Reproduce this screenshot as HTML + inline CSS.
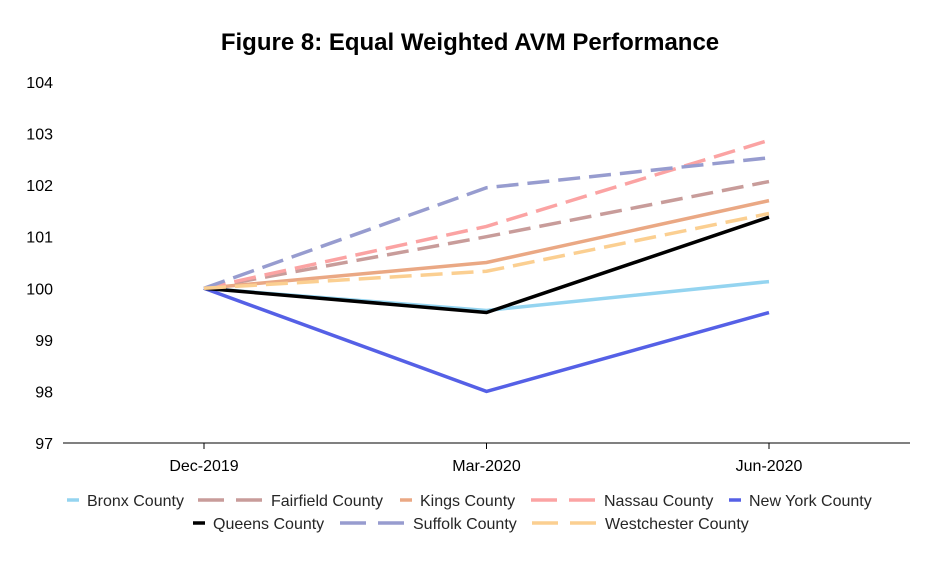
<!DOCTYPE html>
<html><head><meta charset="utf-8"><style>
body{margin:0;background:#fff;font-family:"Liberation Sans",Arial,sans-serif}
svg text{font-family:"Liberation Sans",Arial,sans-serif}
</style></head><body>
<svg id="chart" width="940" height="562">
<text x="470" y="50" text-anchor="middle" font-size="24" font-weight="bold">Figure 8: Equal Weighted AVM Performance</text>
<g id="yaxis"></g>
<g id="xaxis"></g>
<g id="series"></g>
<g id="legend"></g>
</svg>
<script>
const categories=["Dec-2019","Mar-2020","Jun-2020"];
const yTicks=[97,98,99,100,101,102,103,104];
const seriesNames=["Bronx County","Fairfield County","Kings County","Nassau County","New York County","Queens County","Suffolk County","Westchester County"];
const bronx=[100,99.57,100.13];
const fairfield=[100,101.0,102.07];
const kings=[100,100.5,101.7];
const nassau=[100,101.2,102.87];
const newYork=[100,98.0,99.53];
const queens=[100,99.53,101.38];
const suffolk=[100,101.95,102.53];
const westchester=[100,100.33,101.45];
const seriesValues=[bronx,fairfield,kings,nassau,newYork,queens,suffolk,westchester];
const colors=["#94d4f0","#c89c9a","#eaa884","#fba3a3","#5560e6","#000000","#979ccf","#fbcf91"];
const dashed=[false,true,false,true,false,false,true,true];
const NS="http://www.w3.org/2000/svg";
function yS(v){return 443-(v-97)*(443-82)/7;}
function xS(i){return 204+i*282.5;}
function mk(tag,attrs,parent){const e=document.createElementNS(NS,tag);for(const k in attrs)e.setAttribute(k,attrs[k]);parent.appendChild(e);return e;}
const ya=document.getElementById('yaxis'),xa=document.getElementById('xaxis'),sg=document.getElementById('series'),lg=document.getElementById('legend');
yTicks.forEach(t=>{const e=mk('text',{x:53,y:yS(t)+6,'text-anchor':'end','font-size':16},ya);e.textContent=t;

});
const ax=mk('line',{x1:63,x2:910,y1:443,y2:443,stroke:'#000','stroke-width':1},xa);


categories.forEach((c,i)=>{const tk=mk('line',{x1:xS(i),x2:xS(i),y1:443,y2:449,stroke:'#000'},xa);


const e=mk('text',{x:xS(i),y:471,'text-anchor':'middle','font-size':16},xa);e.textContent=c;

});
seriesValues.forEach((vals,s)=>{const pts=vals.map((v,i)=>xS(i)+','+yS(v)).join(' ');
const p=mk('polyline',{points:pts,fill:'none',stroke:colors[s],'stroke-width':3.5},sg);
if(dashed[s])p.setAttribute('stroke-dasharray','22,9');

});
const lineX=[67,198,400,531,729,193,340,532];
const rowY=[500,500,500,500,500,523,523,523];
seriesNames.forEach((n,s)=>{const y=rowY[s];const g=mk('g',{},lg);


const lx=lineX[s];let tx;
if(dashed[s]){mk('line',{x1:lx,x2:lx+26,y1:y,y2:y,stroke:colors[s],'stroke-width':3.5},g);
mk('line',{x1:lx+38,x2:lx+64,y1:y,y2:y,stroke:colors[s],'stroke-width':3.5},g);tx=lx+73;}
else{mk('line',{x1:lx,x2:lx+12,y1:y,y2:y,stroke:colors[s],'stroke-width':3.5},g);tx=lx+20;}
const t=mk('text',{x:tx,y:y+6,'font-size':16,fill:'#262626'},g);t.textContent=n;});
</script>
</body></html>
